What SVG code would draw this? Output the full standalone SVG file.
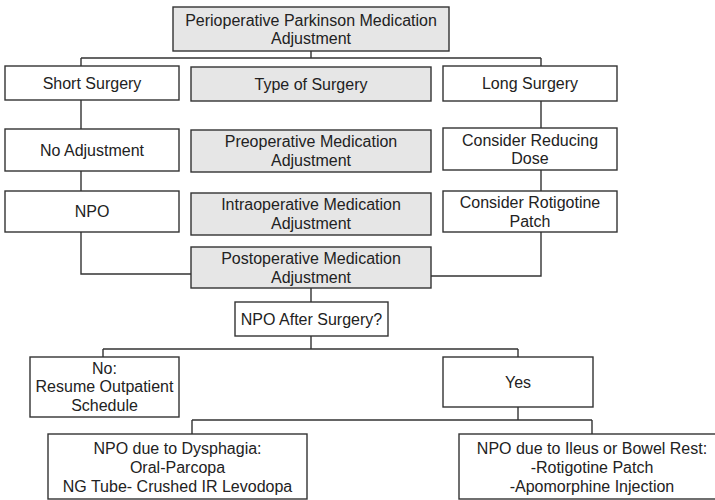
<svg xmlns="http://www.w3.org/2000/svg" width="715" height="500" viewBox="0 0 715 500">
  <style>
    .box { fill: #ffffff; stroke: #333333; stroke-width: 1.4; }
    .gray { fill: #e6e6e6; }
    .lbl { font-family: "Liberation Sans", Arial, sans-serif; font-size: 16px; fill: #222222; text-anchor: middle; }
    .wire { fill: none; stroke: #333333; stroke-width: 1.4; }
  </style>
  <rect width="715" height="500" fill="#ffffff"/>

  <!-- connectors -->
  <g id="connectors">
    <path class="wire" d="M311 51 V58 M81 58 H541 M81 58 V66 M541 58 V66"/>
    <path class="wire" d="M81 100 V129 M81 171 V191 M81 232 V274 H191"/>
    <path class="wire" d="M541 101 V128 M541 170 V191 M541 232 V276 H431"/>
    <path class="wire" d="M311 288 V302"/>
    <path class="wire" d="M311 336 V349 M103 349 H518 M103 349 V357 M518 349 V357"/>
    <path class="wire" d="M518 407 V420 M192 420 H592 M192 420 V434 M592 420 V434"/>
  </g>

  <g id="title">
    <rect class="box gray" x="173" y="7" width="276" height="44"/>
    <text class="lbl" x="311" y="25.5">Perioperative Parkinson Medication</text>
    <text class="lbl" x="311" y="44">Adjustment</text>
  </g>

  <g id="short-surgery">
    <rect class="box" x="5" y="66" width="174" height="34"/>
    <text class="lbl" x="92" y="89">Short Surgery</text>
  </g>
  <g id="type-of-surgery">
    <rect class="box gray" x="191" y="67" width="240" height="34"/>
    <text class="lbl" x="311" y="90">Type of Surgery</text>
  </g>
  <g id="long-surgery">
    <rect class="box" x="443" y="66" width="174" height="35"/>
    <text class="lbl" x="530" y="89">Long Surgery</text>
  </g>

  <g id="no-adjustment">
    <rect class="box" x="5" y="129" width="174" height="42"/>
    <text class="lbl" x="92" y="156">No Adjustment</text>
  </g>
  <g id="preoperative">
    <rect class="box gray" x="191" y="130" width="240" height="42"/>
    <text class="lbl" x="311" y="147">Preoperative Medication</text>
    <text class="lbl" x="311" y="166">Adjustment</text>
  </g>
  <g id="reduce-dose">
    <rect class="box" x="443" y="128" width="174" height="42"/>
    <text class="lbl" x="530" y="145.5">Consider Reducing</text>
    <text class="lbl" x="530" y="164">Dose</text>
  </g>

  <g id="npo">
    <rect class="box" x="5" y="191" width="174" height="41"/>
    <text class="lbl" x="92" y="217">NPO</text>
  </g>
  <g id="intraoperative">
    <rect class="box gray" x="191" y="193" width="240" height="42"/>
    <text class="lbl" x="311" y="210">Intraoperative Medication</text>
    <text class="lbl" x="311" y="228.5">Adjustment</text>
  </g>
  <g id="rotigotine">
    <rect class="box" x="443" y="191" width="174" height="41"/>
    <text class="lbl" x="530" y="208">Consider Rotigotine</text>
    <text class="lbl" x="530" y="226.5">Patch</text>
  </g>

  <g id="postoperative">
    <rect class="box gray" x="191" y="247" width="240" height="41"/>
    <text class="lbl" x="311" y="264">Postoperative Medication</text>
    <text class="lbl" x="311" y="282.5">Adjustment</text>
  </g>

  <g id="npo-after">
    <rect class="box" x="235" y="302" width="153" height="34"/>
    <text class="lbl" x="311.5" y="325">NPO After Surgery?</text>
  </g>

  <g id="answer-no">
    <rect class="box" x="30" y="357" width="149" height="60"/>
    <text class="lbl" x="104.5" y="373.5">No:</text>
    <text class="lbl" x="104.5" y="392">Resume Outpatient</text>
    <text class="lbl" x="104.5" y="410.5">Schedule</text>
  </g>

  <g id="answer-yes">
    <rect class="box" x="443" y="357" width="150" height="50"/>
    <text class="lbl" x="518" y="388">Yes</text>
  </g>

  <g id="dysphagia">
    <rect class="box" x="48" y="434" width="259" height="65"/>
    <text class="lbl" x="177.5" y="453.5">NPO due to Dysphagia:</text>
    <text class="lbl" x="177.5" y="472.5">Oral-Parcopa</text>
    <text class="lbl" x="177.5" y="491.5">NG Tube- Crushed IR Levodopa</text>
  </g>

  <g id="ileus">
    <rect class="box" x="459" y="434" width="270" height="65"/>
    <text class="lbl" x="592" y="453.5">NPO due to Ileus or Bowel Rest:</text>
    <text class="lbl" x="592" y="472.5">-Rotigotine Patch</text>
    <text class="lbl" x="592" y="491.5">-Apomorphine Injection</text>
  </g>
</svg>
